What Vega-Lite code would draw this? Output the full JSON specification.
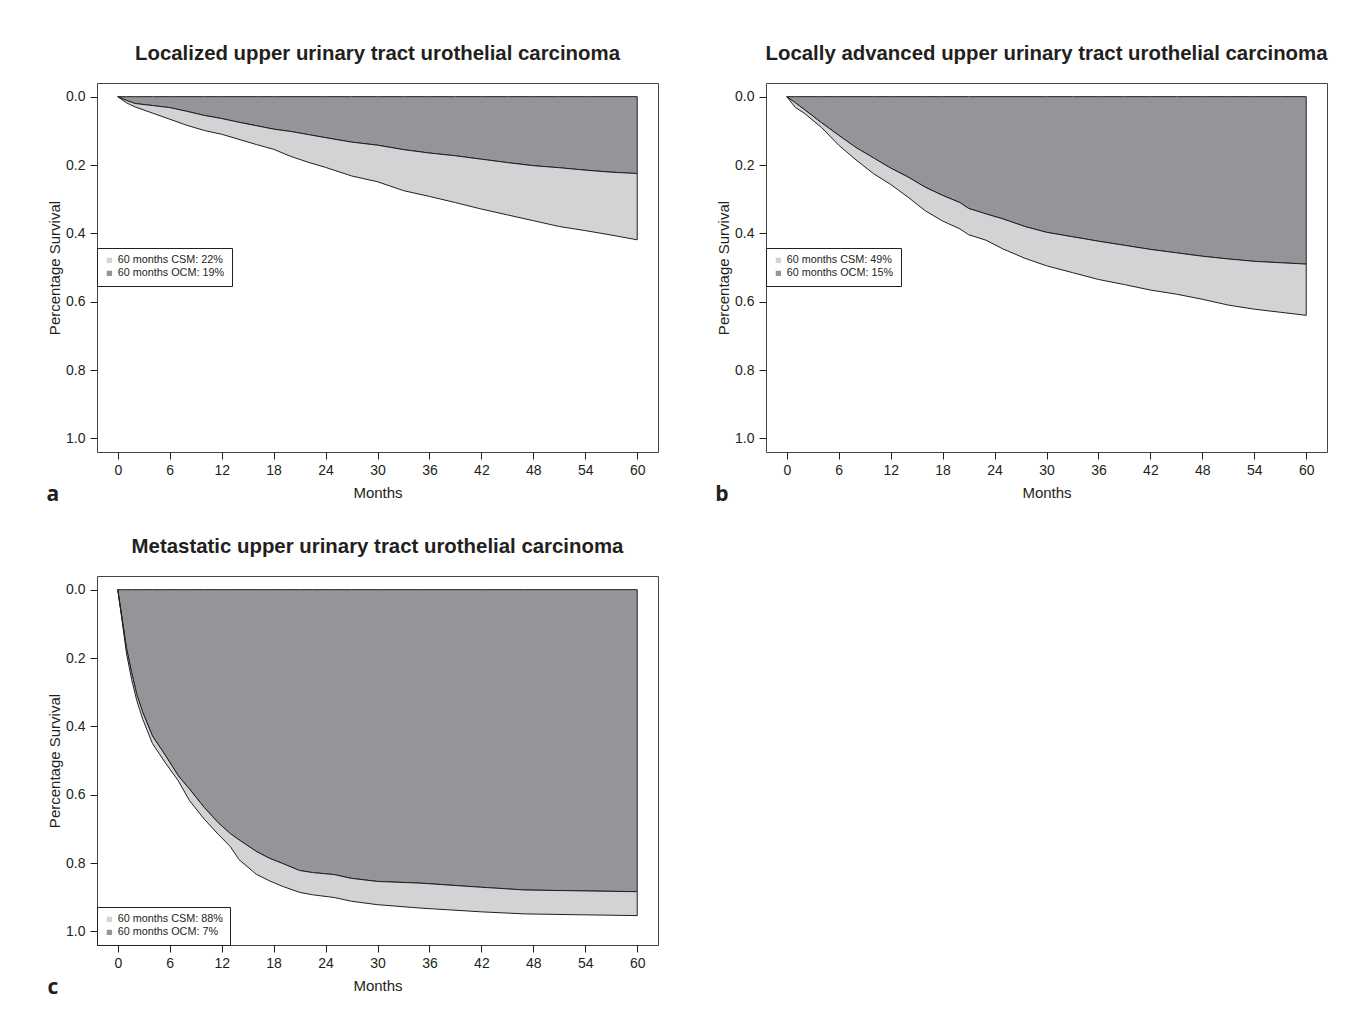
{
  "$schema": "https://vega.github.io/schema/vega-lite/v6.json",
  "padding": {"left": 46, "top": 43, "right": 0, "bottom": 0},
  "background": "white",
  "columns": 2,
  "spacing": {"row": 124, "column": 108},
  "bounds": "flush",
  "datasets": {
    "a": [
      {"month": 0, "upper": 0, "lower": 0},
      {"month": 1, "upper": 0.011, "lower": 0.018},
      {"month": 2, "upper": 0.02, "lower": 0.03},
      {"month": 4, "upper": 0.026, "lower": 0.048},
      {"month": 6, "upper": 0.032, "lower": 0.066},
      {"month": 8, "upper": 0.043, "lower": 0.084},
      {"month": 10, "upper": 0.055, "lower": 0.099},
      {"month": 12, "upper": 0.064, "lower": 0.11},
      {"month": 14, "upper": 0.075, "lower": 0.125},
      {"month": 16, "upper": 0.085, "lower": 0.14},
      {"month": 18, "upper": 0.095, "lower": 0.154},
      {"month": 20, "upper": 0.102, "lower": 0.175},
      {"month": 22, "upper": 0.111, "lower": 0.192},
      {"month": 24, "upper": 0.12, "lower": 0.207},
      {"month": 27, "upper": 0.133, "lower": 0.232},
      {"month": 30, "upper": 0.142, "lower": 0.249},
      {"month": 33, "upper": 0.155, "lower": 0.275},
      {"month": 36, "upper": 0.165, "lower": 0.292},
      {"month": 39, "upper": 0.173, "lower": 0.31},
      {"month": 42, "upper": 0.183, "lower": 0.329},
      {"month": 45, "upper": 0.193, "lower": 0.346},
      {"month": 48, "upper": 0.202, "lower": 0.363},
      {"month": 51, "upper": 0.208, "lower": 0.38},
      {"month": 54, "upper": 0.215, "lower": 0.392},
      {"month": 57, "upper": 0.221, "lower": 0.405},
      {"month": 60, "upper": 0.225, "lower": 0.419}
    ],
    "b": [
      {"month": 0, "upper": 0, "lower": 0},
      {"month": 1, "upper": 0.018, "lower": 0.032},
      {"month": 2, "upper": 0.037, "lower": 0.048},
      {"month": 4, "upper": 0.076, "lower": 0.09},
      {"month": 6, "upper": 0.113, "lower": 0.142},
      {"month": 8, "upper": 0.149, "lower": 0.185},
      {"month": 10, "upper": 0.179, "lower": 0.225},
      {"month": 12, "upper": 0.209, "lower": 0.257},
      {"month": 14, "upper": 0.235, "lower": 0.294},
      {"month": 16, "upper": 0.265, "lower": 0.334},
      {"month": 18, "upper": 0.289, "lower": 0.364},
      {"month": 20, "upper": 0.31, "lower": 0.387},
      {"month": 21, "upper": 0.327, "lower": 0.404},
      {"month": 23, "upper": 0.343, "lower": 0.42},
      {"month": 25, "upper": 0.358, "lower": 0.446},
      {"month": 27.5, "upper": 0.38, "lower": 0.473},
      {"month": 30, "upper": 0.397, "lower": 0.495},
      {"month": 33, "upper": 0.41, "lower": 0.515},
      {"month": 36, "upper": 0.423, "lower": 0.535},
      {"month": 39, "upper": 0.435, "lower": 0.55},
      {"month": 42, "upper": 0.447, "lower": 0.566},
      {"month": 45, "upper": 0.457, "lower": 0.578},
      {"month": 48, "upper": 0.467, "lower": 0.593},
      {"month": 51, "upper": 0.475, "lower": 0.61},
      {"month": 54, "upper": 0.482, "lower": 0.622},
      {"month": 57, "upper": 0.486, "lower": 0.631},
      {"month": 60, "upper": 0.49, "lower": 0.64}
    ],
    "c": [
      {"month": 0, "upper": 0, "lower": 0},
      {"month": 0.4, "upper": 0.068, "lower": 0.073},
      {"month": 1, "upper": 0.17, "lower": 0.185},
      {"month": 1.6, "upper": 0.243, "lower": 0.263},
      {"month": 2.2, "upper": 0.307, "lower": 0.325},
      {"month": 2.9, "upper": 0.36, "lower": 0.38},
      {"month": 4, "upper": 0.428, "lower": 0.45},
      {"month": 5.5, "upper": 0.485, "lower": 0.507},
      {"month": 7, "upper": 0.545, "lower": 0.56},
      {"month": 8.3, "upper": 0.584, "lower": 0.618},
      {"month": 10, "upper": 0.638, "lower": 0.672},
      {"month": 11.6, "upper": 0.682, "lower": 0.716},
      {"month": 13, "upper": 0.714, "lower": 0.752},
      {"month": 14, "upper": 0.732, "lower": 0.79},
      {"month": 16, "upper": 0.766, "lower": 0.833},
      {"month": 17.5, "upper": 0.786, "lower": 0.852},
      {"month": 19, "upper": 0.801, "lower": 0.868},
      {"month": 21, "upper": 0.822, "lower": 0.886},
      {"month": 22.5, "upper": 0.828, "lower": 0.893},
      {"month": 25, "upper": 0.834, "lower": 0.901},
      {"month": 27, "upper": 0.845, "lower": 0.912},
      {"month": 30, "upper": 0.854, "lower": 0.922},
      {"month": 35, "upper": 0.859, "lower": 0.932},
      {"month": 42, "upper": 0.871, "lower": 0.943},
      {"month": 47, "upper": 0.879, "lower": 0.949},
      {"month": 52, "upper": 0.881, "lower": 0.951},
      {"month": 60, "upper": 0.884, "lower": 0.954}
    ]
  },
  "concat": [
    {
      "width": 561, "height": 369,
      "title": {"text": "Localized upper urinary tract urothelial carcinoma"},
      "data": {"name": "a"},
      "layer": [
        {
          "mark": {"type": "area", "stroke": "#231f20", "strokeWidth": 1, "opacity": 1},
          "encoding": {
            "x": {"field": "month", "type": "quantitative", "title": "Months", "scale": {"domain": [-2.4, 62.4], "nice": false, "zero": false}, "axis": {"values": [0, 6, 12, 18, 24, 30, 36, 42, 48, 54, 60]}},
            "y": {"field": "upper", "type": "quantitative", "stack": null, "title": "Percentage Survival", "scale": {"domain": [-0.04, 1.04], "reverse": true, "nice": false, "zero": false}, "axis": {"values": [0, 0.2, 0.4, 0.6, 0.8, 1], "format": ".1f"}},
            "y2": {"datum": 0},
            "color": {"datum": "60 months OCM: 19%", "scale": {"domain": ["60 months CSM: 22%", "60 months OCM: 19%"], "range": ["#d1d3d4", "#939598"]}, "legend": {"orient": "none", "legendX": 0, "legendY": 165}}
          }
        },
        {
          "mark": {"type": "area", "stroke": "#231f20", "strokeWidth": 1, "opacity": 1},
          "encoding": {
            "x": {"field": "month", "type": "quantitative"},
            "y": {"field": "lower", "type": "quantitative", "stack": null},
            "y2": {"field": "upper"},
            "color": {"datum": "60 months CSM: 22%"}
          }
        },
        {
          "data": {"values": [{"letter": "a"}]},
          "mark": {"type": "text", "font": "Open Sans", "fontWeight": "bold", "fontSize": 21, "color": "#231f20", "align": "center", "baseline": "middle"},
          "encoding": {"x": {"datum": -7.5}, "y": {"datum": 1.165}, "text": {"field": "letter"}}
        }
      ]
    },
    {
      "width": 561, "height": 369,
      "title": {"text": "Locally advanced upper urinary tract urothelial carcinoma"},
      "data": {"name": "b"},
      "layer": [
        {
          "mark": {"type": "area", "stroke": "#231f20", "strokeWidth": 1, "opacity": 1},
          "encoding": {
            "x": {"field": "month", "type": "quantitative", "title": "Months", "scale": {"domain": [-2.4, 62.4], "nice": false, "zero": false}, "axis": {"values": [0, 6, 12, 18, 24, 30, 36, 42, 48, 54, 60]}},
            "y": {"field": "upper", "type": "quantitative", "stack": null, "title": "Percentage Survival", "scale": {"domain": [-0.04, 1.04], "reverse": true, "nice": false, "zero": false}, "axis": {"values": [0, 0.2, 0.4, 0.6, 0.8, 1], "format": ".1f"}},
            "y2": {"datum": 0},
            "color": {"datum": "60 months OCM: 15%", "scale": {"domain": ["60 months CSM: 49%", "60 months OCM: 15%"], "range": ["#d1d3d4", "#939598"]}, "legend": {"orient": "none", "legendX": 0, "legendY": 165}}
          }
        },
        {
          "mark": {"type": "area", "stroke": "#231f20", "strokeWidth": 1, "opacity": 1},
          "encoding": {
            "x": {"field": "month", "type": "quantitative"},
            "y": {"field": "lower", "type": "quantitative", "stack": null},
            "y2": {"field": "upper"},
            "color": {"datum": "60 months CSM: 49%"}
          }
        },
        {
          "data": {"values": [{"letter": "b"}]},
          "mark": {"type": "text", "font": "Open Sans", "fontWeight": "bold", "fontSize": 21, "color": "#231f20", "align": "center", "baseline": "middle"},
          "encoding": {"x": {"datum": -7.5}, "y": {"datum": 1.165}, "text": {"field": "letter"}}
        }
      ]
    },
    {
      "width": 561, "height": 369,
      "title": {"text": "Metastatic upper urinary tract urothelial carcinoma"},
      "data": {"name": "c"},
      "layer": [
        {
          "mark": {"type": "area", "stroke": "#231f20", "strokeWidth": 1, "opacity": 1},
          "encoding": {
            "x": {"field": "month", "type": "quantitative", "title": "Months", "scale": {"domain": [-2.4, 62.4], "nice": false, "zero": false}, "axis": {"values": [0, 6, 12, 18, 24, 30, 36, 42, 48, 54, 60]}},
            "y": {"field": "upper", "type": "quantitative", "stack": null, "title": "Percentage Survival", "scale": {"domain": [-0.04, 1.04], "reverse": true, "nice": false, "zero": false}, "axis": {"values": [0, 0.2, 0.4, 0.6, 0.8, 1], "format": ".1f"}},
            "y2": {"datum": 0},
            "color": {"datum": "60 months OCM: 7%", "scale": {"domain": ["60 months CSM: 88%", "60 months OCM: 7%"], "range": ["#d1d3d4", "#939598"]}, "legend": {"orient": "bottom-left", "offset": 0}}
          }
        },
        {
          "mark": {"type": "area", "stroke": "#231f20", "strokeWidth": 1, "opacity": 1},
          "encoding": {
            "x": {"field": "month", "type": "quantitative"},
            "y": {"field": "lower", "type": "quantitative", "stack": null},
            "y2": {"field": "upper"},
            "color": {"datum": "60 months CSM: 88%"}
          }
        },
        {
          "data": {"values": [{"letter": "c"}]},
          "mark": {"type": "text", "font": "Open Sans", "fontWeight": "bold", "fontSize": 21, "color": "#231f20", "align": "center", "baseline": "middle"},
          "encoding": {"x": {"datum": -7.5}, "y": {"datum": 1.165}, "text": {"field": "letter"}}
        }
      ]
    }
  ],
  "resolve": {"scale": {"color": "independent"}, "legend": {"color": "independent"}},
  "config": {
    "view": {"stroke": "#444444", "strokeWidth": 1},
    "axis": {"domain": false, "grid": false, "tickColor": "#231f20", "tickSize": 7, "labelFont": "Liberation Sans", "labelFontSize": 14, "labelColor": "#231f20", "labelPadding": 5, "titleFont": "Liberation Sans", "titleFontSize": 15, "titleFontWeight": "normal", "titleColor": "#231f20"},
    "axisX": {"titlePadding": 8, "labelPadding": 4},
    "axisY": {"titlePadding": 3},
    "title": {"font": "Liberation Sans", "fontSize": 20.4, "fontWeight": "bold", "color": "#231f20", "anchor": "middle", "offset": 19},
    "legend": {"title": null, "strokeColor": "#231f20", "fillColor": "white", "padding": 7, "symbolType": "square", "symbolSize": 28, "symbolStrokeWidth": 0, "symbolOpacity": 1, "labelFont": "Liberation Sans", "labelFontSize": 10.8, "labelColor": "#231f20", "rowPadding": 1, "labelOffset": 3}
  }
}
